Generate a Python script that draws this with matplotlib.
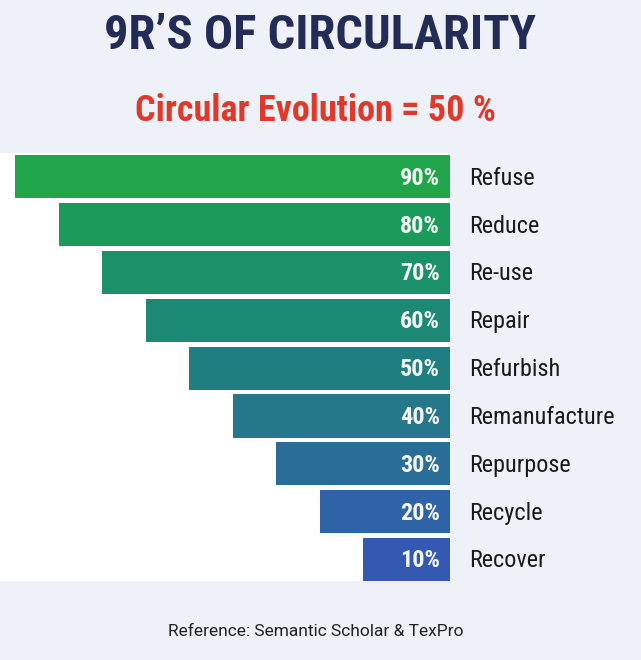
import matplotlib.pyplot as plt

# 9R's of circularity data
categories = ['Refuse', 'Reduce', 'Re-use', 'Repair', 'Refurbish',
              'Remanufacture', 'Repurpose', 'Recycle', 'Recover']
values = [90, 80, 70, 60, 50, 40, 30, 20, 10]
value_labels = ['90%', '80%', '70%', '60%', '50%', '40%', '30%', '20%', '10%']

colors = ['#21a54b', '#1b9b5b', '#1a9168', '#1c8974', '#1f7f80',
          '#25778b', '#2a6d99', '#2f63a7', '#3459b3']

COND = ['Roboto Condensed', 'DejaVu Sans']

fig = plt.figure(figsize=(6.41, 6.60), dpi=100)
fig.patch.set_facecolor('#eef1f7')

ax = fig.add_axes([0, 79 / 660, 450 / 641, 428 / 660])
ax.set_facecolor('white')
ypos = list(range(len(values)))
# bars start a step to the right of zero so the shortest one keeps room for its label
base = -10
ax.barh(ypos, [v - base for v in values], left=base, height=0.9, color=colors)
ax.set_xlim(450 / 4.35 + base, base)
ax.set_ylim(8.45, -0.5)
for s in ax.spines.values():
    s.set_visible(False)
ax.set_xticks([])
ax.set_yticks([])

tr = ax.get_yaxis_transform()
for y, lab, cat in zip(ypos, value_labels, categories):
    ax.text(440 / 450, y + 0.03, lab, transform=tr, ha='right', va='center', color='#f4f6f4',
            fontsize=17.5, fontweight='bold', family=COND)
    ax.text(469 / 450, y + 0.03, cat, transform=tr, ha='left', va='center', color='#1a1a1a',
            fontsize=17.5, family=COND, clip_on=False)

fig.text(0.5, 1 - 36 / 660, "9R\u2019S OF CIRCULARITY", ha='center', va='center',
         color='#232c57', fontsize=35, fontweight='bold', family=COND)
fig.text(0.492, 1 - 111 / 660, 'Circular Evolution = 50 %', ha='center', va='center',
         color='#e0392b', fontsize=26, fontweight='bold', family=COND)
fig.text(0.493, 1 - 632 / 660, 'Reference: Semantic Scholar & TexPro', ha='center',
         va='center', color='#222222', fontsize=12.5, family=['Roboto', 'DejaVu Sans'])

plt.savefig('out.png', dpi=100, facecolor=fig.get_facecolor())
